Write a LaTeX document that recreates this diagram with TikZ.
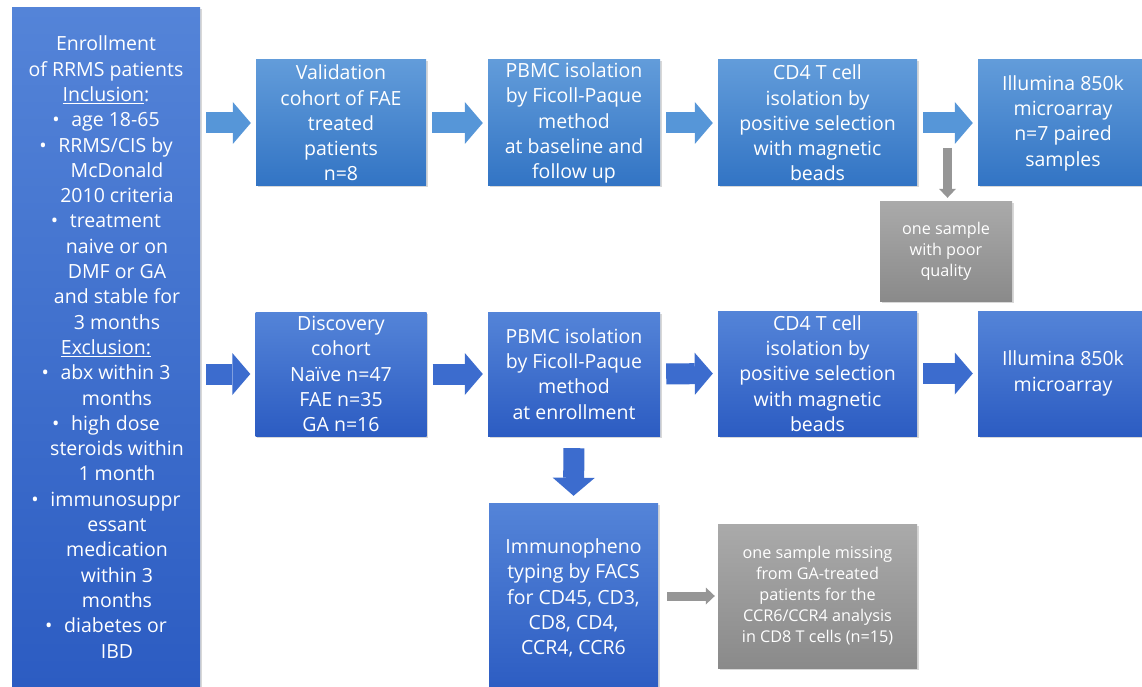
\documentclass[tikz,border=0pt]{standalone}
\usepackage{fontspec}
\setmainfont{Open Sans}
\usetikzlibrary{calc,shadows,arrows.meta}
\definecolor{lighttop}{RGB}{98,156,218}
\definecolor{lightbot}{RGB}{50,116,196}
\definecolor{darktop}{RGB}{84,132,216}
\definecolor{darkbot}{RGB}{44,92,194}
\definecolor{greytop}{RGB}{170,170,170}
\definecolor{greybot}{RGB}{138,138,138}
\definecolor{arrowlight}{RGB}{86,150,216}
\definecolor{arrowdark}{RGB}{60,108,206}
\definecolor{arrowgrey}{RGB}{150,150,150}

\begin{document}
\begin{tikzpicture}[x=1pt,y=-1pt,
  box/.style={rectangle, text=white, align=center, inner sep=0pt,
    font=\fontsize{19.5}{25.3}\selectfont,
    drop shadow={opacity=0.3, shadow xshift=1.5pt, shadow yshift=-1.5pt}},
  lightbox/.style={box, top color=lighttop, bottom color=lightbot},
  darkbox/.style={box, top color=darktop, bottom color=darkbot},
  greybox/.style={box, top color=greytop, bottom color=greybot,
    font=\fontsize{16.2}{21}\selectfont},
  lightarrow/.style={draw=arrowlight, line width=21pt,
    -{Triangle[length=18pt, width=42pt, line width=0pt]},
    shorten <=6pt, shorten >=5pt},
  darkarrow/.style={lightarrow, draw=arrowdark},
  greyarrow/.style={draw=arrowgrey, line width=9pt,
    -{Triangle[length=9pt, width=17pt, line width=0pt]},
    shorten <=9pt, shorten >=3pt}]
\useasboundingbox (0,0) rectangle (1142,687);
\fill[white] (0,0) rectangle (1142,687);

%enrollment box on the left
\node[darkbox, minimum width=188, minimum height=678] (enroll) at (106,347)
  {Enrollment\\
   of RRMS patients\\
   \underline{Inclusion}:\\
   \textbullet\hspace{0.6em}age 18-65\\
   \textbullet\hspace{0.6em}RRMS/CIS by\\
   \hspace*{22pt}McDonald\\
   \hspace*{22pt}2010 criteria\\
   \textbullet\hspace{0.6em}treatment\\
   \hspace*{22pt}naive or on\\
   \hspace*{22pt}DMF or GA\\
   \hspace*{22pt}and stable for\\
   \hspace*{22pt}3 months\\
   \underline{Exclusion:}\\
   \textbullet\hspace{0.6em}abx within 3\\
   \hspace*{22pt}months\\
   \textbullet\hspace{0.6em}high dose\\
   \hspace*{22pt}steroids within\\
   \hspace*{22pt}1 month\\
   \textbullet\hspace{0.6em}immunosuppr\\
   \hspace*{22pt}essant\\
   \hspace*{22pt}medication\\
   \hspace*{22pt}within 3\\
   \hspace*{22pt}months\\
   \textbullet\hspace{0.6em}diabetes or\\
   \hspace*{22pt}IBD};

%validation row
\node[lightbox, minimum width=170, minimum height=126] (valid) at (341,123)
  {Validation\\cohort of FAE\\treated\\patients\\n=8};
\node[lightbox, minimum width=172, minimum height=126] (pbmcA) at (574,123)
  {PBMC isolation\\by Ficoll-Paque\\method\\at baseline and\\follow up};
\node[lightbox, minimum width=199, minimum height=126] (cdA) at (817.5,123)
  {CD4 T cell\\isolation by\\positive selection\\with magnetic\\beads};
\node[lightbox, minimum width=170, minimum height=126] (illA) at (1063,123)
  {Illumina 850k\\microarray\\n=7 paired\\samples};
\node[greybox, minimum width=132, minimum height=100] (poor) at (946,251)
  {one sample\\with poor\\quality};

%discovery row
\node[darkbox, minimum width=171, minimum height=124] (disc) at (341,374)
  {Discovery\\cohort\\Naïve n=47\\FAE n=35\\GA n=16};
\node[darkbox, minimum width=172, minimum height=124] (pbmcB) at (574,374)
  {PBMC isolation\\by Ficoll-Paque\\method\\at enrollment};
\node[darkbox, minimum width=199, minimum height=125] (cdB) at (817.5,373.5)
  {CD4 T cell\\isolation by\\positive selection\\with magnetic\\beads};
\node[darkbox, minimum width=170, minimum height=125] (illB) at (1063,373.5)
  {Illumina 850k\\microarray};

%immunophenotyping
\node[darkbox, minimum width=169, minimum height=190] (immuno) at (573.5,598)
  {Immunopheno\\typing by FACS\\for CD45, CD3,\\CD8, CD4,\\CCR4, CCR6};
\node[greybox, minimum width=199, minimum height=144] (missing) at (817.5,596)
  {one sample missing\\from GA-treated\\patients for the\\CCR6/CCR4 analysis\\in CD8 T cells (n=15)};

%draw arrows
\draw[lightarrow] (enroll.east |- valid.west) -- (valid.west);
\draw[lightarrow] (valid.east) -- (pbmcA.west);
\draw[lightarrow] (pbmcA.east) -- (cdA.west);
\draw[lightarrow] (cdA.east) -- coordinate[midway] (fork) (illA.west);
\draw[darkarrow] (enroll.east |- disc.west) -- (disc.west);
\draw[darkarrow] (disc.east) -- (pbmcB.west);
\draw[darkarrow] (pbmcB.east) -- (cdB.west);
\draw[darkarrow] (cdB.east) -- (illB.west);
\draw[darkarrow, shorten <=12pt, shorten >=7pt] (pbmcB.south) -- (immuno.north);
\draw[greyarrow, shorten <=25pt] (fork) -- (fork |- poor.north);
\draw[greyarrow] (immuno.east |- missing.west) -- (missing.west);
\end{tikzpicture}
\end{document}
